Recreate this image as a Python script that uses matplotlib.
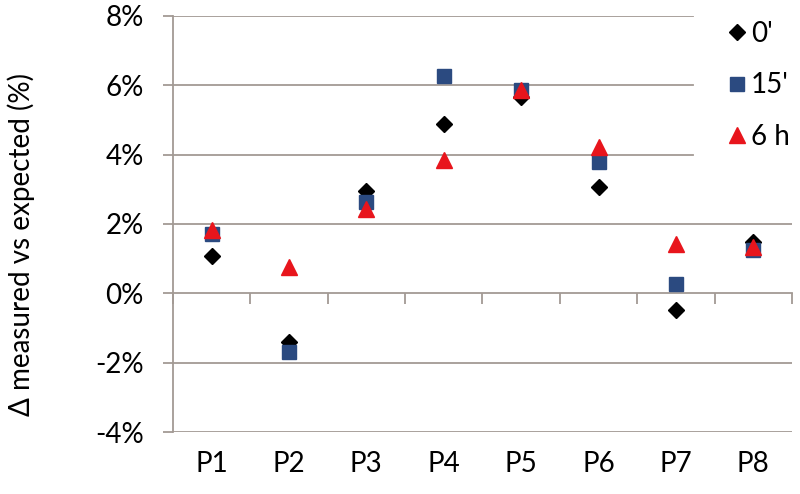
import numpy as np
import matplotlib.pyplot as plt

plt.rcParams['font.family'] = ['Lato', 'DejaVu Sans']

# Data (percent)
categories = ['P1', 'P2', 'P3', 'P4', 'P5', 'P6', 'P7', 'P8']
t0_vals = [1.07, -1.40, 2.95, 4.87, 5.65, 3.07, -0.49, 1.48]
t15_vals = [1.70, -1.69, 2.63, 6.26, 5.85, 3.79, 0.28, 1.24]
t6h_vals = [1.82, 0.76, 2.44, 3.84, 5.87, 4.22, 1.43, 1.34]
series_labels = ["0'", "15'", "6 h"]
yticks = [-4, -2, 0, 2, 4, 6, 8]

grid_col = '#a39a94'
fs = 20

fig = plt.figure(figsize=(8, 4.94), dpi=100)
ax = fig.add_axes([0.216, 0.1255, 0.774, 0.8425])

x = np.arange(1, len(categories) + 1)

# Gridlines (the top ones are cut short by the legend, like Excel)
for y in yticks:
    if y == 0:
        continue
    xmax = 0.84 if y >= 4 else 1.0
    ax.axhline(y, xmin=0, xmax=xmax, color=grid_col, lw=1.3, zorder=1)

ax.plot(x, t0_vals, linestyle='none', marker='D', ms=8.5, color='black',
        label=series_labels[0], zorder=3)
ax.plot(x, t15_vals, linestyle='none', marker='s', ms=10.5, color='#2b4a80',
        label=series_labels[1], zorder=3)
ax.plot(x, t6h_vals, linestyle='none', marker='^', ms=11, color='#e8151c',
        label=series_labels[2], zorder=3)

ax.set_xlim(0.5, len(categories) + 0.5)
ax.set_ylim(-4, 8)

# y axis
ax.set_yticks(yticks)
ax.set_yticklabels([f'{v}%' for v in yticks])
ax.tick_params(axis='y', length=7, width=1.3, color=grid_col, labelsize=fs, pad=14)
ax.spines['left'].set_color(grid_col)
ax.spines['left'].set_linewidth(1.3)
for s in ['top', 'right']:
    ax.spines[s].set_visible(False)

# horizontal axis crosses at 0 with ticks between categories
ax.spines['bottom'].set_position(('data', 0))
ax.spines['bottom'].set_color(grid_col)
ax.spines['bottom'].set_linewidth(1.3)
ax.set_xticks(np.arange(0.5, len(categories) + 1, 1.0))
ax.set_xticklabels([])
ax.tick_params(axis='x', length=8, width=1.3, color=grid_col, direction='out')

# category labels at the bottom of the plot
sec = ax.secondary_xaxis(0)
sec.set_xticks(x)
sec.set_xticklabels(categories)
sec.tick_params(length=0, labelsize=fs, pad=14)
sec.spines['bottom'].set_visible(False)

ax.set_ylabel('Δ measured vs expected (%)', fontsize=20)
ax.yaxis.set_label_coords(-0.222, 0.45)

ax.legend(loc='upper left', bbox_to_anchor=(0.88, 1.015), frameon=False,
          fontsize=fs, handlelength=0.6, handletextpad=0.2, labelspacing=0.92,
          borderaxespad=0)

fig.savefig('out.png', dpi=100)
